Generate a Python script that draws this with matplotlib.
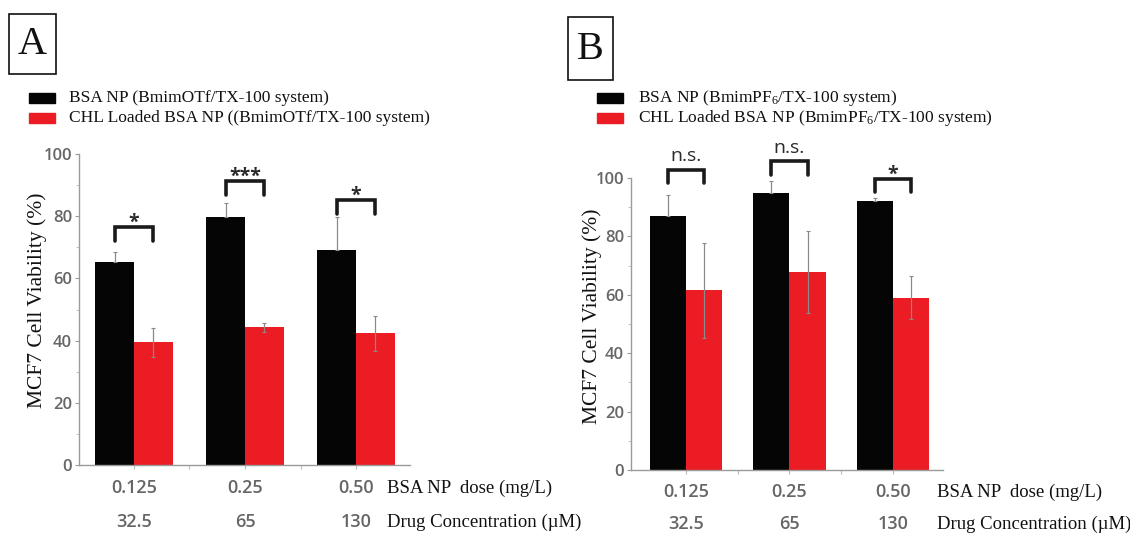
import matplotlib
matplotlib.use("Agg")
import matplotlib.pyplot as plt
import matplotlib.transforms as mtransforms
from matplotlib.patches import Rectangle
import numpy as np

W, H = 1130, 536

# ---- data ----
dose_labels = ["0.125", "0.25", "0.50"]
drug_labels = ["32.5", "65", "130"]

a_bsa = [65.4, 79.8, 69.1]
a_bsa_err = [3.0, 4.3, 10.7]
a_chl = [39.4, 44.3, 42.3]
a_chl_err = [4.6, 1.5, 5.7]
a_bracket_top = [76.6, 91.4, 85.2]
a_sig = ["*", "***", "*"]

b_bsa = [87.1, 94.9, 92.2]
b_bsa_err = [7.2, 4.0, 0.8]
b_chl = [61.5, 67.8, 59.0]
b_chl_err = [16.4, 14.2, 7.3]
b_bracket_top = [102.9, 105.7, 99.7]
b_sig = ["n.s.", "n.s.", "*"]

BLACK = "#050505"
RED = "#ec1c24"
GREY = "#8a8a8a"
TICKC = "#666666"
SERIF = "Liberation Serif"
SANS = "Open Sans"

plt.rcParams["mathtext.fontset"] = "custom"
plt.rcParams["mathtext.rm"] = SERIF
plt.rcParams["mathtext.it"] = SERIF + ":italic"
plt.rcParams["mathtext.default"] = "rm"

fig = plt.figure(figsize=(W / 100, H / 100), dpi=100)


def fy(y):
    return 1 - y / H


def fx(x):
    return x / W


def add_axes_px(left, right, top, bottom):
    return fig.add_axes([fx(left), fy(bottom), fx(right - left), (bottom - top) / H])


def panel(ax, bsa, bsa_err, chl, chl_err, btops, sigs, xlim):
    x = np.arange(len(bsa))
    w = 0.35
    ax.bar(x - w / 2, bsa, w, color=BLACK, zorder=2)
    ax.bar(x + w / 2, chl, w, color=RED, zorder=2)
    # black bars only show the upper whisker
    ax.errorbar(x - w / 2, bsa, yerr=[np.zeros(len(bsa)), bsa_err], fmt="none",
                ecolor=GREY, elinewidth=0.9, capsize=1.5, capthick=0.8, zorder=3)
    ax.errorbar(x + w / 2, chl, yerr=chl_err, fmt="none", ecolor=GREY,
                elinewidth=0.9, capsize=1.5, capthick=0.8, zorder=3)
    for xi, top, s in zip(x, btops, sigs):
        ax.plot([xi - w / 2, xi - w / 2, xi + w / 2, xi + w / 2],
                [top - 4.6, top, top, top - 4.6], color="#1a1a1a", lw=2.6,
                solid_capstyle="round", solid_joinstyle="miter", clip_on=False, zorder=4)
        star = s.startswith("*")
        ax.text(xi, top + (1.4 if star else 1.6), s, ha="center",
                va="center" if star else "bottom",
                fontsize=14 if star else 14, fontweight="bold" if star else "normal",
                fontfamily=SANS, color="#2a2a2a", clip_on=False)
    ax.set_xlim(*xlim)
    ax.set_ylim(0, 100)
    for sp in ("top", "right"):
        ax.spines[sp].set_visible(False)
    for sp in ("left", "bottom"):
        ax.spines[sp].set_color("#9a9a9a")
        ax.spines[sp].set_linewidth(1.0)
    ax.set_yticks([0, 20, 40, 60, 80, 100])
    ax.set_yticks([10, 30, 50, 70, 90], minor=True)
    ax.set_xticks([0, 0.5, 1, 1.5, 2])
    ax.set_xticklabels([])
    ax.tick_params(axis="y", which="major", length=3, color="#9a9a9a",
                   labelcolor=TICKC, labelsize=12, pad=2)
    ax.tick_params(axis="y", which="minor", length=2, color="#bbbbbb")
    ax.tick_params(axis="x", which="major", length=3, color="#bbbbbb")
    for lab in ax.get_yticklabels():
        lab.set_fontfamily(SANS)
        lab.set_fontweight("semibold")
    return x


def labels_below(ax, x, y1, y2, desc_x):
    tr = mtransforms.blended_transform_factory(ax.transData, fig.transFigure)
    for xi, d, c in zip(x, dose_labels, drug_labels):
        ax.text(xi, fy(y1), d, transform=tr, ha="center", va="center",
                fontsize=13, fontfamily=SANS, fontweight="semibold", color=TICKC)
        ax.text(xi, fy(y2), c, transform=tr, ha="center", va="center",
                fontsize=13, fontfamily=SANS, fontweight="semibold", color=TICKC)
    fig.text(fx(desc_x), fy(y1), "BSA NP  dose (mg/L)", ha="left", va="center",
             fontsize=13.5, fontfamily=SERIF, color="#111111")
    fig.text(fx(desc_x), fy(y2), "Drug Concentration (\u00b5M)", ha="left", va="center",
             fontsize=13.5, fontfamily=SERIF, color="#111111")


def letter_box(x0, y0, x1, y1, letter):
    fig.patches.append(Rectangle((fx(x0), fy(y1)), fx(x1 - x0), (y1 - y0) / H,
                                 transform=fig.transFigure, fill=False,
                                 edgecolor="#111111", lw=1.2))
    fig.text(fx((x0 + x1) / 2), fy((y0 + y1) / 2 + 1), letter, ha="center", va="center",
             fontsize=29, fontfamily=SERIF, color="#111111")


def legend(px, tx, y_top, labels):
    for i, (lab, col) in enumerate(zip(labels, [BLACK, RED])):
        yc = y_top + i * 20
        fig.patches.append(Rectangle((fx(px), fy(yc + 5)), fx(26), 10 / H,
                                     transform=fig.transFigure, color=col))
        fig.text(fx(tx), fy(yc), lab, ha="left", va="center",
                 fontsize=12.5, fontfamily=SERIF, color="#111111")


# ---- panel A ----
axA = add_axes_px(79, 410, 154, 465)
xa = panel(axA, a_bsa, a_bsa_err, a_chl, a_chl_err, a_bracket_top, a_sig,
           (-0.495, 2.486))
labels_below(axA, xa, 488, 522, 387)
fig.text(fx(37), fy(300), "MCF7 Cell Viability (%)", rotation=90, ha="center",
         va="center", fontsize=15.5, fontfamily=SERIF, color="#111111")
letter_box(9, 14, 56, 74, "A")
legend(29, 69, 98, ["BSA NP (BmimOTf/TX-100 system)",
                    "CHL Loaded BSA NP ((BmimOTf/TX-100 system)"])

# ---- panel B ----
axB = add_axes_px(631, 943, 178, 470)
xb = panel(axB, b_bsa, b_bsa_err, b_chl, b_chl_err, b_bracket_top, b_sig,
           (-0.531, 2.483))
labels_below(axB, xb, 492, 524, 937)
fig.text(fx(592), fy(316), "MCF7 Cell Viability (%)", rotation=90, ha="center",
         va="center", fontsize=15.5, fontfamily=SERIF, color="#111111")
letter_box(568, 17, 613, 80, "B")
legend(597, 638, 98, ["BSA NP (BmimPF$_6$/TX-100 system)",
                      "CHL Loaded BSA NP (BmimPF$_6$/TX-100 system)"])

fig.savefig("out.png", dpi=100)
